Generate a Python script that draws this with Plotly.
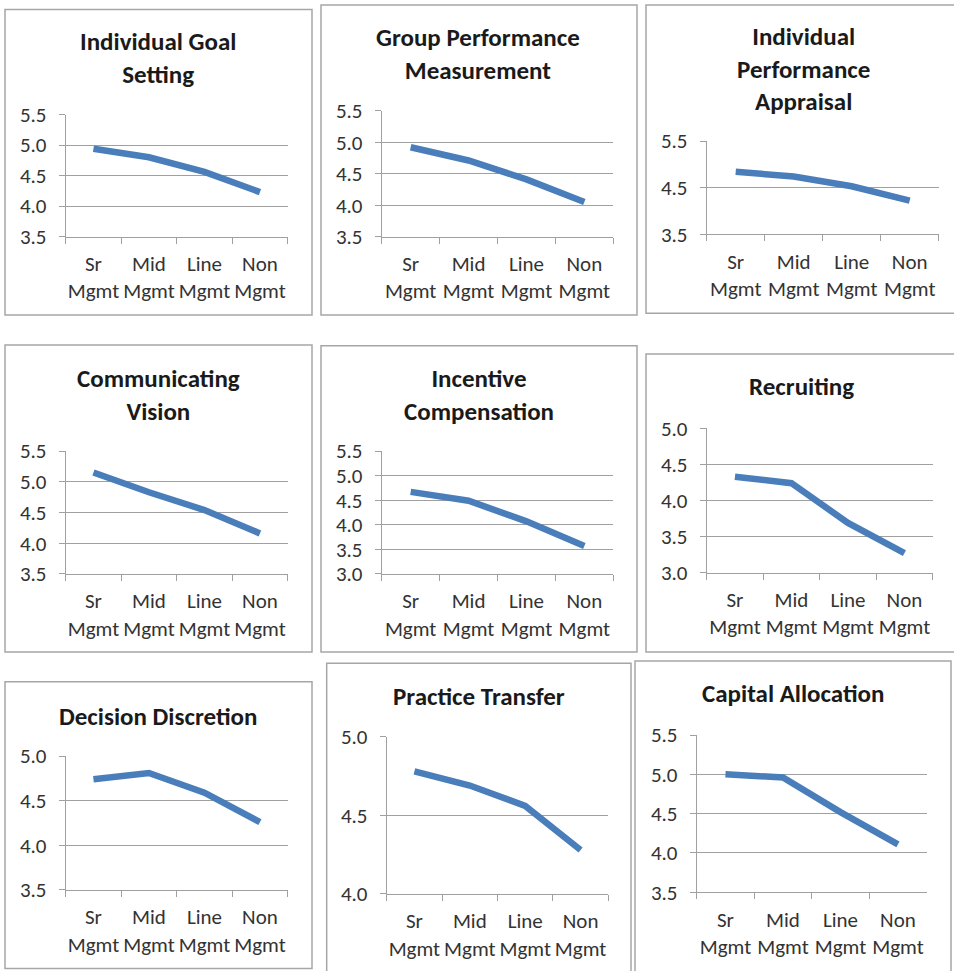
import plotly.graph_objects as go

W, H = 954, 971

categories = ["Sr<br>Mgmt", "Mid<br>Mgmt", "Line<br>Mgmt", "Non<br>Mgmt"]

titles = [
    "Individual Goal<br>Setting",
    "Group Performance<br>Measurement",
    "Individual<br>Performance<br>Appraisal",
    "Communicating<br>Vision",
    "Incentive<br>Compensation",
    "Recruiting",
    "Decision Discretion",
    "Practice Transfer",
    "Capital Allocation",
]

individual_goal_setting = [4.94, 4.80, 4.56, 4.23]
group_performance_measurement = [4.92, 4.71, 4.41, 4.05]
individual_performance_appraisal = [4.84, 4.74, 4.53, 4.22]
communicating_vision = [5.15, 4.83, 4.54, 4.16]
incentive_compensation = [4.67, 4.49, 4.07, 3.57]
recruiting = [4.33, 4.24, 3.69, 3.27]
decision_discretion = [4.74, 4.81, 4.59, 4.26]
practice_transfer = [4.78, 4.69, 4.56, 4.28]
capital_allocation = [5.00, 4.96, 4.52, 4.11]

series = [
    individual_goal_setting, group_performance_measurement,
    individual_performance_appraisal, communicating_vision,
    incentive_compensation, recruiting, decision_discretion,
    practice_transfer, capital_allocation,
]

# y-axis scale per panel: (min, max, step)
y_scales = [
    (3.5, 5.5, 0.5), (3.5, 5.5, 0.5), (3.5, 5.5, 1.0),
    (3.5, 5.5, 0.5), (3.0, 5.5, 0.5), (3.0, 5.0, 0.5),
    (3.5, 5.0, 0.5), (4.0, 5.0, 0.5), (3.5, 5.5, 0.5),
]

# ---- layout geometry in pixels (box, plot area, title centre) ----
boxes = [
    (5, 9.5, 312, 315), (321, 5, 637, 315), (646, 5, 962, 313.3),
    (5, 345, 312, 652), (321, 345.7, 637, 652), (646, 354, 962, 652),
    (5, 681.7, 312, 968.5), (326.7, 663.3, 631, 985), (635, 661, 951, 985),
]
plots = [  # x_left, x_right, y_top, y_bottom
    (65.7, 287.7, 114.5, 236.7), (381.7, 613.3, 110.7, 236.7), (706.7, 938.7, 141, 234.3),
    (65.7, 287.7, 451, 574), (381.7, 613.3, 451, 574), (706.7, 932.7, 428.3, 572.7),
    (65.7, 287.7, 756, 890), (386.7, 608.3, 736.7, 894), (696.7, 926.7, 735, 892.3),
]
title_pos = [
    (158, 57.5), (478, 53.5), (803.5, 68.5),
    (158, 394.5), (479, 394.5), (801.5, 386.7),
    (158, 716.7), (478.7, 696.7), (793.3, 693.3),
]

FONT = "Carlito, Lato, 'Open Sans', sans-serif"
LINE_COLOR = "#4A7EBB"
GRID = "#A0A0A0"
TEXT = "#333333"
TICK_SIZE = 21
TITLE_SIZE = 25

fig = go.Figure()
layout = dict(
    template="none",
    width=W, height=H, autosize=False,
    margin=dict(l=0, r=0, t=0, b=0, pad=0),
    paper_bgcolor="white", plot_bgcolor="white",
    showlegend=False,
    font=dict(family=FONT, color=TEXT),
)

shapes = []
annotations = []
for i in range(9):
    n = "" if i == 0 else str(i + 1)
    x0, x1, yt, yb = plots[i]
    ymin, ymax, step = y_scales[i]
    fig.add_trace(go.Scatter(
        x=categories, y=series[i], mode="lines",
        line=dict(color=LINE_COLOR, width=6.5),
        xaxis="x" + n, yaxis="y" + n, hoverinfo="skip",
    ))
    layout["xaxis" + n] = dict(
        domain=[x0 / W, x1 / W], anchor="y" + n, type="category",
        categoryorder="array", categoryarray=categories,
        range=[-0.5, 3.5], tickson="boundaries", ticks="outside",
        ticklen=6, tickcolor=GRID, tickwidth=1, showline=True,
        linecolor=GRID, linewidth=1, showgrid=False, zeroline=False,
        tickangle=0, ticklabelstandoff=8, automargin=False,
        tickfont=dict(family=FONT, size=TICK_SIZE, color=TEXT), fixedrange=True,
    )
    eps = (ymax - ymin) * 0.0005
    layout["yaxis" + n] = dict(
        domain=[1 - yb / H, 1 - yt / H], anchor="x" + n,
        range=[ymin - eps, ymax + eps], dtick=step, tick0=ymin,
        tickformat=".1f", ticks="outside", ticklen=6, tickcolor=GRID,
        showline=True, linecolor=GRID, linewidth=1, showgrid=True,
        gridcolor=GRID, gridwidth=1, zeroline=False,
        ticklabelstandoff=8, automargin=False,
        tickfont=dict(family=FONT, size=TICK_SIZE, color=TEXT), fixedrange=True,
    )
    bx0, by0, bx1, by1 = boxes[i]
    shapes.append(dict(
        type="rect", xref="paper", yref="paper",
        x0=bx0 / W, x1=bx1 / W, y0=1 - by1 / H, y1=1 - by0 / H,
        line=dict(color="#A6A6A6", width=1.5), layer="below",
    ))
    tx, ty = title_pos[i]
    annotations.append(dict(
        text="<b>" + titles[i] + "</b>", xref="paper", yref="paper",
        x=tx / W, y=1 - ty / H, xanchor="center", yanchor="middle",
        showarrow=False, align="center",
        font=dict(family=FONT, size=TITLE_SIZE, color="#1a1a1a"),
    ))

layout["shapes"] = shapes
layout["annotations"] = annotations
fig.update_layout(**layout)
fig.write_html(
    "out.html",
    config={"displayModeBar": False},
    post_script="document.body.style.margin='0';document.body.style.overflow='hidden';",
)
